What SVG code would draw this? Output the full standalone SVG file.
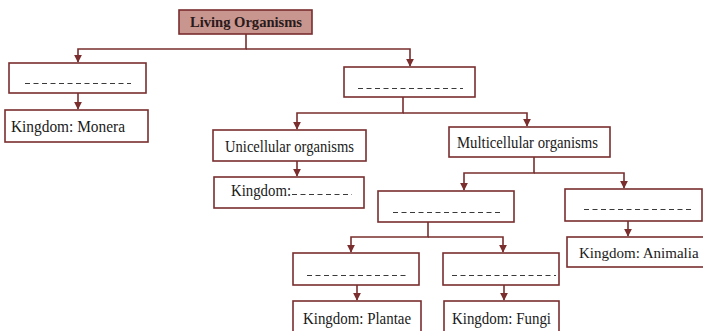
<svg xmlns="http://www.w3.org/2000/svg" width="703" height="331" viewBox="0 0 703 331">
<style>
.box{fill:#ffffff;stroke:#7a2e2e;stroke-width:1.6}
.root{fill:#c8968f;stroke:#7a2e2e;stroke-width:1.6}
.t{font-family:"Liberation Serif","Times New Roman",serif;font-size:16px;fill:#1a1a1a}
.tb{font-family:"Liberation Serif","Times New Roman",serif;font-size:15px;font-weight:bold;fill:#2a1a1a}
.dash{stroke:#3a3a3a;stroke-width:1;stroke-dasharray:5,3.5;fill:none}
.c{fill:none;stroke:#7a2e2e;stroke-width:1.6}
</style>
<defs>
<marker id="ah" viewBox="0 0 10 10" refX="9" refY="5" markerWidth="5" markerHeight="5" orient="auto">
<path d="M0,0 L10,5 L0,10 z" fill="#7a2e2e"/>
</marker>
</defs>
<rect width="703" height="331" fill="#ffffff"/>
<g id="connectors">
<path class="c" d="M246,34 V49 H78 V62" marker-end="url(#ah)"/>
<path class="c" d="M246,49 H410 V66" marker-end="url(#ah)"/>
<path class="c" d="M78,93 V109" marker-end="url(#ah)"/>
<path class="c" d="M403,97 V113 H297 V129" marker-end="url(#ah)"/>
<path class="c" d="M403,113 H527 V126" marker-end="url(#ah)"/>
<path class="c" d="M297,161 V176" marker-end="url(#ah)"/>
<path class="c" d="M534,157 V173 H464 V190" marker-end="url(#ah)"/>
<path class="c" d="M534,173 H624 V188" marker-end="url(#ah)"/>
<path class="c" d="M628,221 V236" marker-end="url(#ah)"/>
<path class="c" d="M428,222 V237 H351 V252" marker-end="url(#ah)"/>
<path class="c" d="M428,237 H503 V252" marker-end="url(#ah)"/>
<path class="c" d="M357,285 V300" marker-end="url(#ah)"/>
<path class="c" d="M504,285 V300" marker-end="url(#ah)"/>
</g>
<g id="living">
<rect class="root" x="179" y="10" width="133" height="24"/>
<text class="tb" x="190" y="27" textLength="112" lengthAdjust="spacingAndGlyphs">Living Organisms</text>
</g>
<g id="blank1">
<rect class="box" x="9" y="63" width="137" height="30"/>
<line class="dash" x1="25" y1="83.5" x2="131" y2="83.5"/>
</g>
<g id="monera">
<rect class="box" x="5" y="110" width="143" height="32"/>
<text class="t" x="11" y="132" textLength="114" lengthAdjust="spacingAndGlyphs">Kingdom: Monera</text>
</g>
<g id="blank2">
<rect class="box" x="344" y="67" width="131" height="30"/>
<line class="dash" x1="358" y1="88.5" x2="463" y2="88.5"/>
</g>
<g id="unicellular">
<rect class="box" x="213" y="130" width="153" height="31"/>
<text class="t" x="225" y="152" textLength="129" lengthAdjust="spacingAndGlyphs">Unicellular organisms</text>
</g>
<g id="kingdom-uni">
<rect class="box" x="214" y="177" width="150" height="31"/>
<text class="t" x="231" y="196" textLength="60" lengthAdjust="spacingAndGlyphs">Kingdom:</text>
<line class="dash" x1="292" y1="194.5" x2="352" y2="194.5"/>
</g>
<g id="multicellular">
<rect class="box" x="449" y="127" width="161" height="30"/>
<text class="t" x="457" y="148" textLength="141" lengthAdjust="spacingAndGlyphs">Multicellular organisms</text>
</g>
<g id="blank3">
<rect class="box" x="378" y="191" width="136" height="31"/>
<line class="dash" x1="393" y1="212.5" x2="500" y2="212.5"/>
</g>
<g id="blank4">
<rect class="box" x="565" y="189" width="137" height="32"/>
<line class="dash" x1="584" y1="209.5" x2="691" y2="209.5"/>
</g>
<g id="animalia">
<rect class="box" x="567" y="237" width="140" height="30"/>
<text x="579" y="258" style="font-family:'Liberation Serif','Times New Roman',serif;font-size:15px;fill:#1a1a1a">Kingdom: Animalia</text>
</g>
<g id="blank5">
<rect class="box" x="293" y="253" width="126" height="32"/>
<line class="dash" x1="307" y1="275.5" x2="406" y2="275.5"/>
</g>
<g id="blank6">
<rect class="box" x="443" y="253" width="116" height="32"/>
<line class="dash" x1="452" y1="275.5" x2="556" y2="275.5"/>
</g>
<g id="plantae">
<rect class="box" x="293" y="301" width="128" height="40"/>
<text class="t" x="303" y="324" textLength="108" lengthAdjust="spacingAndGlyphs">Kingdom: Plantae</text>
</g>
<g id="fungi">
<rect class="box" x="444" y="301" width="115" height="40"/>
<text class="t" x="452" y="324" textLength="99" lengthAdjust="spacingAndGlyphs">Kingdom: Fungi</text>
</g>
</svg>
